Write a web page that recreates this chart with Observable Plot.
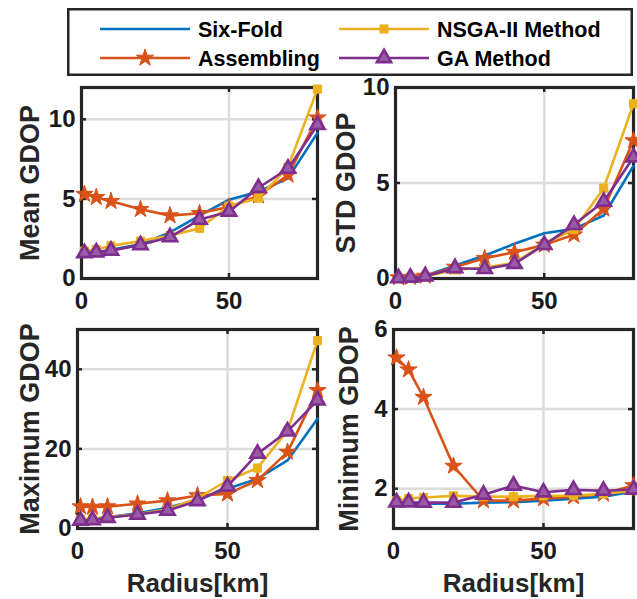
<!DOCTYPE html>
<html><head><meta charset="utf-8">
<script src="https://cdn.jsdelivr.net/npm/d3@7"></script>
<script src="https://cdn.jsdelivr.net/npm/@observablehq/plot@0.6"></script>
<style>
body{margin:0;background:#fff;}
#root{position:relative;width:637px;height:599px;overflow:hidden;background:#fff;}
.panel{position:absolute;}
#legend{position:absolute;left:67px;top:8px;}
</style></head>
<body><div id="root"><div id="legend"></div></div>
<script>
// ---- data ----
const radius = [1, 5, 10, 20, 30, 40, 50, 60, 70, 80];
const seriesNames = ["Six-Fold", "Assembling", "NSGA-II Method", "GA Method"];
const seriesColors = ["#0072BD", "#D95319", "#EDB120", "#7E2F8E"];
const seriesSymbols = [null, "star", "square", "triangle"];

const meanSix  = [1.6, 1.65, 1.8, 2.15, 2.9, 3.95, 4.95, 5.45, 6.3, 9.15];
const meanAsm  = [5.3, 5.1, 4.85, 4.35, 3.95, 4.1, 4.5, 5.2, 6.5, 10.1];
const meanNsga = [1.72, 1.82, 2.05, 2.35, 2.7, 3.15, 4.55, 5.05, 7.0, 11.9];
const meanGa   = [1.6, 1.65, 1.75, 2.1, 2.6, 3.7, 4.2, 5.7, 6.9, 9.65];

const stdSix  = [0.05, 0.08, 0.15, 0.68, 1.2, 1.82, 2.37, 2.6, 3.3, 5.9];
const stdAsm  = [0.05, 0.07, 0.13, 0.6, 1.06, 1.38, 1.76, 2.29, 3.65, 7.22];
const stdNsga = [0.03, 0.05, 0.12, 0.45, 0.58, 0.82, 1.82, 2.56, 4.73, 9.15];
const stdGa   = [0.02, 0.05, 0.12, 0.54, 0.5, 0.77, 1.76, 2.81, 4.03, 6.35];

const maxSix  = [2.0, 2.4, 2.8, 3.8, 5.2, 7.2, 9.97, 12.5, 17.1, 27.6];
const maxAsm  = [5.5, 5.4, 5.5, 6.2, 7.0, 8.3, 8.7, 12.1, 19.2, 34.7];
const maxNsga = [2.3, 2.5, 2.9, 3.6, 4.8, 7.6, 12.06, 15.2, 24.6, 47.2];
const maxGa   = [2.0, 2.1, 2.7, 3.5, 4.5, 6.9, 10.6, 18.8, 24.4, 32.2];

const minSix  = [1.63, 1.63, 1.62, 1.62, 1.65, 1.66, 1.7, 1.75, 1.8, 1.93];
const minAsm  = [5.29, 4.99, 4.3, 2.57, 1.7, 1.7, 1.75, 1.8, 1.87, 2.08];
const minNsga = [1.7, 1.75, 1.78, 1.82, 1.8, 1.8, 1.82, 1.83, 1.87, 1.95];
const minGa   = [1.66, 1.66, 1.65, 1.65, 1.85, 2.08, 1.91, 1.97, 1.95, 1.98];

const xTicks = [0, 50];
const FONT = '"Liberation Sans", Arial, sans-serif';
const INK = "#262626";
const symbolR = {star: 5.4, square: 4.6, triangle: 5.3};

function makePanel(cfg) {
  const plotW = cfg.width - cfg.ml - cfg.mr;
  const plotH = cfg.height - cfg.mt - cfg.mb;
  const marks = [
    Plot.gridX(xTicks.filter(t => t > 0 && t < 80), {stroke: "#dcdcdc", strokeWidth: 2.5, strokeOpacity: 1}),
    Plot.gridY(cfg.yticks.filter(t => t > cfg.ydomain[0] && t < cfg.ydomain[1]), {stroke: "#dcdcdc", strokeWidth: 2.5, strokeOpacity: 1}),
    Plot.frame({stroke: INK, strokeWidth: 3.2}),
    Plot.tickX(xTicks, {x: d => d, stroke: INK, strokeWidth: 2.5, insetTop: plotH - 5}),
    Plot.tickX(xTicks, {x: d => d, stroke: INK, strokeWidth: 2.5, insetBottom: plotH - 5}),
    Plot.tickY(cfg.yticks, {y: d => d, stroke: INK, strokeWidth: 2.5, insetRight: plotW - 5}),
    Plot.tickY(cfg.yticks, {y: d => d, stroke: INK, strokeWidth: 2.5, insetLeft: plotW - 5})
  ];
  cfg.values.forEach((vals, s) => {
    marks.push(Plot.line(vals, {x: radius, y: d => d, stroke: seriesColors[s], strokeWidth: 2.6}));
    const sym = seriesSymbols[s];
    if (sym) {
      marks.push(Plot.dot(vals, {
        x: radius, y: d => d, symbol: () => sym, r: symbolR[sym],
        fill: sym === "triangle" ? "#9a5aa6" : seriesColors[s],
        stroke: seriesColors[s], strokeWidth: sym === "triangle" ? 2.6 : 1
      }));
    }
  });
  marks.push(Plot.axisX(xTicks, {tickSize: 0, tickPadding: 13, label: null, fontSize: 24, fontWeight: "bold", fill: "#1a1a1a"}));
  marks.push(Plot.axisY(cfg.yticks, {tickSize: 0, tickPadding: 6, label: null, fontSize: 24, fontWeight: "bold", fill: "#1a1a1a"}));
  marks.push(Plot.text([cfg.ylabel], {text: d => d, frameAnchor: "left", rotate: -90, dx: cfg.ylabelDx,
    textAnchor: "middle", lineAnchor: "middle", fontSize: 27, fontWeight: "bold", fill: INK}));
  if (cfg.xlabel) {
    marks.push(Plot.text([cfg.xlabel], {text: d => d, frameAnchor: "bottom", dy: 55,
      textAnchor: "middle", lineAnchor: "middle", fontSize: 26, fontWeight: "bold", fill: INK}));
  }
  const svg = Plot.plot({
    width: cfg.width, height: cfg.height,
    marginLeft: cfg.ml, marginRight: cfg.mr, marginTop: cfg.mt, marginBottom: cfg.mb,
    x: {domain: [0, 80]},
    y: {domain: cfg.ydomain},
    style: {fontFamily: FONT, color: INK, background: "transparent", overflow: "visible"},
    marks
  });
  svg.classList.add("panel");
  svg.style.left = cfg.left + "px";
  svg.style.top = cfg.top + "px";
  svg.style.overflow = "visible";
  document.getElementById("root").appendChild(svg);
}

makePanel({left: 0, top: 80, width: 322, height: 240, ml: 81, mr: 5, mt: 7, mb: 42,
  ydomain: [0, 12], yticks: [0, 5, 10], ylabel: "Mean GDOP", ylabelDx: -51,
  values: [meanSix, meanAsm, meanNsga, meanGa]});
makePanel({left: 320, top: 80, width: 317, height: 240, ml: 75, mr: 4, mt: 7, mb: 42,
  ydomain: [0, 10], yticks: [0, 5, 10], ylabel: "STD GDOP", ylabelDx: -49,
  values: [stdSix, stdAsm, stdNsga, stdGa]});
makePanel({left: 0, top: 320, width: 322, height: 279, ml: 77, mr: 5, mt: 9, mb: 71,
  ydomain: [0, 50], yticks: [0, 20, 40], ylabel: "Maximum GDOP", ylabelDx: -47, xlabel: "Radius[km]",
  values: [maxSix, maxAsm, maxNsga, maxGa]});
makePanel({left: 320, top: 320, width: 317, height: 279, ml: 73, mr: 4, mt: 9, mb: 71,
  ydomain: [1, 6], yticks: [2, 4, 6], ylabel: "Minimum GDOP", ylabelDx: -44, xlabel: "Radius[km]",
  values: [minSix, minAsm, minNsga, minGa]});

// ---- legend ----
(function legend() {
  const W = 566, H = 68;
  const svg = d3.create("svg").attr("width", W).attr("height", H)
    .style("font-family", FONT).style("font-weight", "bold");
  svg.append("rect").attr("x", 1.25).attr("y", 1.25).attr("width", W - 2.5).attr("height", H - 2.5)
    .attr("fill", "white").attr("stroke", INK).attr("stroke-width", 2.5);
  const colX = [33, 272], rowY = [21, 50];
  const symType = {star: d3.symbolStar, square: d3.symbolSquare, triangle: d3.symbolTriangle};
  seriesNames.forEach((name, i) => {
    const col = i < 2 ? 0 : 1, row = i % 2;
    const x0 = colX[col], y = rowY[row];
    const g = svg.append("g");
    g.append("line").attr("x1", x0).attr("x2", x0 + 90).attr("y1", y).attr("y2", y)
      .attr("stroke", seriesColors[i]).attr("stroke-width", 2.6);
    const sym = seriesSymbols[i];
    if (sym) {
      const r = symbolR[sym];
      g.append("path").attr("transform", `translate(${x0 + 45},${y})`)
        .attr("d", d3.symbol(symType[sym], Math.PI * r * r)())
        .attr("fill", sym === "triangle" ? "#9a5aa6" : seriesColors[i])
        .attr("stroke", seriesColors[i]).attr("stroke-width", sym === "triangle" ? 2.6 : 1);
    }
    g.append("text").attr("x", x0 + 98).attr("y", y).attr("dy", "0.36em")
      .attr("font-size", 21.5).attr("fill", "#000").text(name);
  });
  document.getElementById("legend").appendChild(svg.node());
})();
</script>
</body></html>
